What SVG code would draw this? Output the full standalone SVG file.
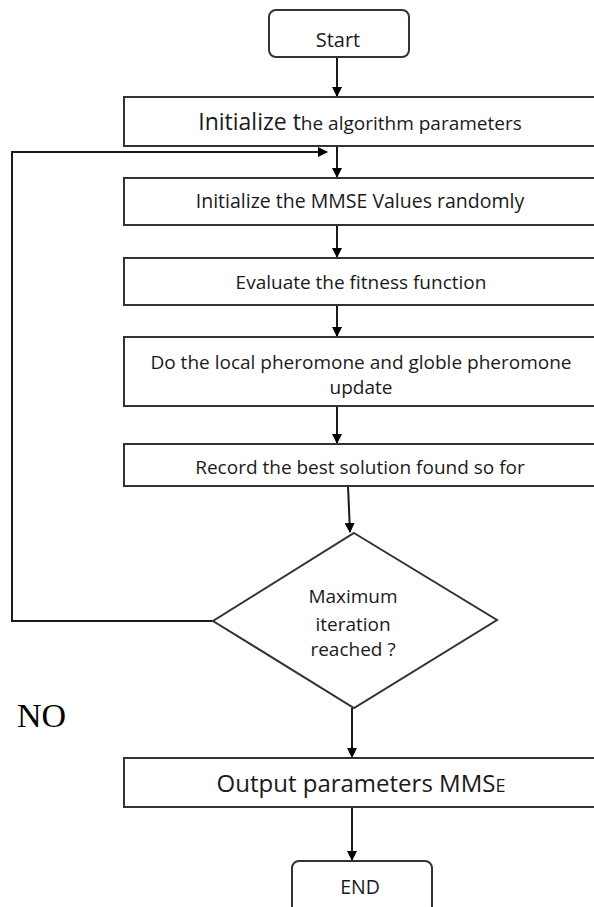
<svg xmlns="http://www.w3.org/2000/svg" width="594" height="907" viewBox="0 0 594 907">
<style>
.box{fill:#fff;stroke:#333;stroke-width:2}
.t{font-family:"Open Sans","Liberation Sans",sans-serif;font-size:19px;fill:#1a1a1a;text-anchor:middle}
.ln{fill:none;stroke:#1a1a1a;stroke-width:2}
</style>
<defs>
<marker id="ah" markerWidth="10" markerHeight="10" refX="9" refY="5" orient="auto" markerUnits="userSpaceOnUse">
<path d="M0,0 L10,5 L0,10 Z" fill="#000"/>
</marker>
</defs>
<rect width="594" height="907" fill="#fff"/>
<g id="connectors">
<line class="ln" x1="337" y1="57" x2="337" y2="96" marker-end="url(#ah)"/>
<line class="ln" x1="337" y1="146" x2="337" y2="177" marker-end="url(#ah)"/>
<line class="ln" x1="337" y1="225" x2="337" y2="257" marker-end="url(#ah)"/>
<line class="ln" x1="337" y1="305" x2="337" y2="336" marker-end="url(#ah)"/>
<line class="ln" x1="337" y1="406" x2="337" y2="443" marker-end="url(#ah)"/>
<line class="ln" x1="348" y1="486" x2="350" y2="532" marker-end="url(#ah)"/>
<polyline class="ln" points="213,621 12,621 12,152 327,152" marker-end="url(#ah)"/>
<line class="ln" x1="352" y1="708" x2="352" y2="757" marker-end="url(#ah)"/>
<line class="ln" x1="352" y1="807" x2="352" y2="860" marker-end="url(#ah)"/>
</g>
<g id="start">
<rect class="box" x="269" y="10" width="140" height="47" rx="7"/>
<text class="t" x="338" y="47" style="font-size:20px">Start</text>
</g>
<g id="init-params">
<rect class="box" x="124" y="97" width="480" height="49"/>
<text class="t" x="360" y="130"><tspan style="font-size:23px">Initialize t</tspan>he algorithm parameters</text>
</g>
<g id="init-mmse">
<rect class="box" x="124" y="178" width="480" height="47"/>
<text class="t" x="360" y="208" style="font-size:19.5px">Initialize the MMSE Values randomly</text>
</g>
<g id="evaluate">
<rect class="box" x="124" y="258" width="480" height="47"/>
<text class="t" x="361" y="289">Evaluate the fitness function</text>
</g>
<g id="pheromone">
<rect class="box" x="124" y="337" width="480" height="69"/>
<text class="t" x="361" y="369">Do the local pheromone and globle pheromone</text>
<text class="t" x="361" y="394">update</text>
</g>
<g id="record">
<rect class="box" x="124" y="444" width="480" height="42"/>
<text class="t" x="360" y="474">Record the best solution found so for</text>
</g>
<g id="decision">
<polygon class="box" points="354,533 497,620 354,708 213,621"/>
<text class="t" x="353" y="603">Maximum</text>
<text class="t" x="353" y="631">iteration</text>
<text class="t" x="353" y="656">reached ?</text>
</g>
<text x="17" y="727" font-family="Liberation Serif,serif" font-size="34" fill="#000">NO</text>
<g id="output">
<rect class="box" x="124" y="758" width="480" height="49"/>
<text class="t" x="361" y="792" style="font-size:24px">Output parameters MMS<tspan style="font-size:18px">E</tspan></text>
</g>
<g id="end">
<rect class="box" x="292" y="861" width="140" height="52" rx="7"/>
<text class="t" x="360" y="894" style="font-size:19.5px">END</text>
</g>
</svg>
